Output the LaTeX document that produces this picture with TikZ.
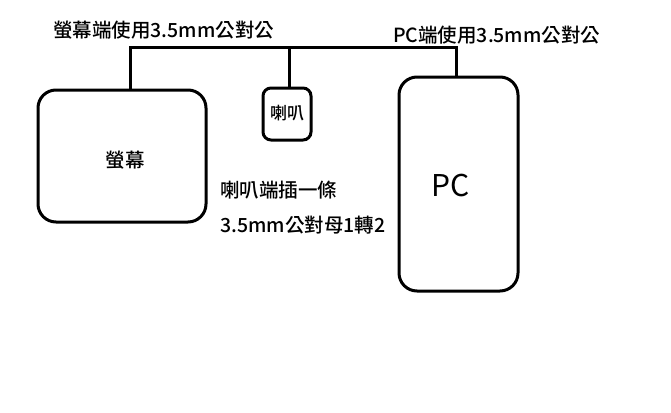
\documentclass[tikz,border=0pt]{standalone}
\usepackage{fontspec}
\setmainfont{Noto Sans CJK TC}[BoldFont={Noto Sans CJK TC Medium}]
\begin{document}
\begin{tikzpicture}[x=1pt,y=-1pt,
  box/.style={draw,line width=3pt,rounded corners=18pt},
  wire/.style={line width=3pt},
  lbl/.style={font=\fontsize{19.5}{21}\selectfont\bfseries,inner sep=0pt}]
\useasboundingbox[fill=white] (0,0) rectangle (671,412);
\draw[box] (38,90) rectangle (206,222);
\draw[box,rounded corners=8pt] (263,88) rectangle (311,140);
\draw[box] (399,77) rectangle (518,291);
\coordinate (m) at (130,90);
\coordinate (s) at (289,88);
\coordinate (p) at (456,77);
\draw[wire] (m) |- (130,48) -| (p);
\draw[wire] (s) -- (289,48);
\node[lbl,anchor=west] at (53,30) {螢幕端使用3.5mm公對公};
\node[lbl,anchor=west] at (393,35) {PC端使用3.5mm公對公};
\node[lbl] at (125,160) {螢幕};
\node[lbl,font=\fontsize{17}{19}\selectfont\bfseries] at (287,113) {喇叭};
\node[lbl,anchor=west] at (220,190) {喇叭端插一條};
\node[lbl,anchor=west] at (220,225) {3.5mm公對母1轉2};
\node[lbl,font=\fontsize{30}{34}\selectfont] at (451,186) {PC};
\end{tikzpicture}
\end{document}
